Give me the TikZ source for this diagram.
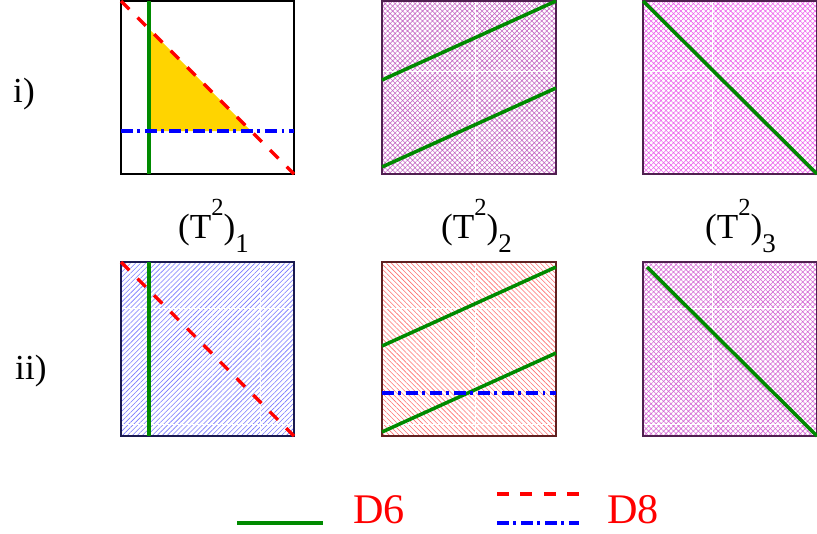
\documentclass[tikz,border=0pt]{standalone}
\usepackage{fontspec}
\setmainfont{Liberation Serif}
\usetikzlibrary{patterns,patterns.meta}

\definecolor{dsixgreen}{HTML}{008A00}
\definecolor{fillgold}{HTML}{FFD400}
\definecolor{mauve}{HTML}{C468C4}
\definecolor{pinkish}{HTML}{EC64EC}
\definecolor{orchid}{HTML}{D468D4}
\definecolor{hatchblue}{HTML}{7878FF}
\definecolor{hatchred}{HTML}{FF7070}
\definecolor{plumedge}{HTML}{502050}
\definecolor{navyedge}{HTML}{1A1A50}
\definecolor{brownedge}{HTML}{602020}

% torus label with raised 2 and lowered index
\newcommand{\torus}[1]{(T\raisebox{19pt}{\fontsize{21}{22}\selectfont 2})\raisebox{-12.75pt}{\fontsize{23}{24}\selectfont #1}}

\begin{document}
\begin{tikzpicture}[
    x=0.03cm, y=-0.03cm,
    % Style definitions
    panel/.style={line width=0.9pt},
    dsix/.style={draw=dsixgreen, line width=3pt},
    deightred/.style={draw=red, line width=2.8pt, dash pattern=on 10pt off 10pt},
    deightblue/.style={draw=blue, line width=2.8pt, dash pattern=on 10pt off 4pt on 2.5pt off 4pt},
    seam/.style={draw=white, line width=0.7pt},
    rowlabel/.style={font=\fontsize{30}{34}\selectfont, anchor=base west, inner sep=0pt},
    legendtext/.style={font=\fontsize{36}{40}\selectfont, text=red, anchor=base west, inner sep=0pt}
]
\useasboundingbox (0,0) rectangle (817,533);

% Row labels
\node[rowlabel] (rowi) at (13,102) {i)};
\node[rowlabel] (rowii) at (15,379) {ii)};

% Row i, panel 1
\fill[fillgold] (149,29) -- (149,131) -- (251,131) -- cycle;
\draw[panel, draw=black] (121,1) rectangle (294,174);
\draw[dsix] (149,1) -- (149,174);
\draw[deightblue] (121,131) -- (294,131);
\draw[deightred] (121,1) -- (294,174);

% Row i, panel 2
\fill[pattern={Hatch[angle=45,distance=3pt,line width=0.5pt]}, pattern color=mauve] (382,1) rectangle (556,174);
\draw[seam] (475,1) -- (475,174);
\draw[seam] (382,71) -- (556,71);
\draw[panel, draw=plumedge] (382,1) rectangle (556,174);
\draw[dsix] (382,80) -- (556,1);
\draw[dsix] (382,167) -- (556,88);

% Row i, panel 3
\fill[pattern={Hatch[angle=45,distance=3pt,line width=0.5pt]}, pattern color=pinkish] (643,1) rectangle (817,174);
\draw[seam] (712,1) -- (712,174);
\draw[seam] (643,71) -- (817,71);
\draw[panel, draw=plumedge] (643,1) rectangle (817,174);
\draw[dsix] (643,1) -- (817,174);

% Column labels
\node[rowlabel] (t1) at (178,238) {\torus{1}};
\node[rowlabel] (t2) at (441,238) {\torus{2}};
\node[rowlabel] (t3) at (705,238) {\torus{3}};

% Row ii, panel 1
\fill[pattern={Lines[angle=45,distance=3pt,line width=0.5pt]}, pattern color=hatchblue] (121,262) rectangle (294,436);
\draw[seam] (260,262) -- (260,436);
\draw[seam] (121,308) -- (294,308);
\draw[seam] (121,424) -- (294,424);
\draw[panel, draw=navyedge] (121,262) rectangle (294,436);
\draw[dsix] (149,262) -- (149,436);
\draw[deightred] (121,262) -- (294,436);

% Row ii, panel 2
\fill[pattern={Lines[angle=-45,distance=3pt,line width=0.5pt]}, pattern color=hatchred] (382,262) rectangle (556,436);
\draw[seam] (475,262) -- (475,436);
\draw[seam] (382,308) -- (556,308);
\draw[seam] (382,424) -- (556,424);
\draw[panel, draw=brownedge] (382,262) rectangle (556,436);
\draw[dsix] (382,346) -- (556,267);
\draw[dsix] (382,432) -- (556,353);
\draw[deightblue] (382,393) -- (556,393);

% Row ii, panel 3
\fill[pattern={Hatch[angle=45,distance=3pt,line width=0.5pt]}, pattern color=orchid] (643,262) rectangle (817,436);
\draw[seam] (712,262) -- (712,436);
\draw[seam] (643,308) -- (817,308);
\draw[seam] (643,424) -- (817,424);
\draw[panel, draw=plumedge] (643,262) rectangle (817,436);
\draw[dsix] (647,267) -- (817,436);

% Legend
\coordinate (gsix0) at (237,523);
\coordinate (gsix1) at (323,523);
\draw[dsix] (gsix0) -- (gsix1);
\node[legendtext] (dsixlabel) at (353,523) {D6};
\coordinate (reight0) at (497,494);
\coordinate (reight1) at (579,494);
\coordinate (beight0) at (497,523);
\coordinate (beight1) at (579,523);
\draw[deightred] (reight0) -- (reight1);
\draw[deightblue] (beight0) -- (beight1);
\node[legendtext] (deightlabel) at (607,523) {D8};

\end{tikzpicture}
\end{document}
